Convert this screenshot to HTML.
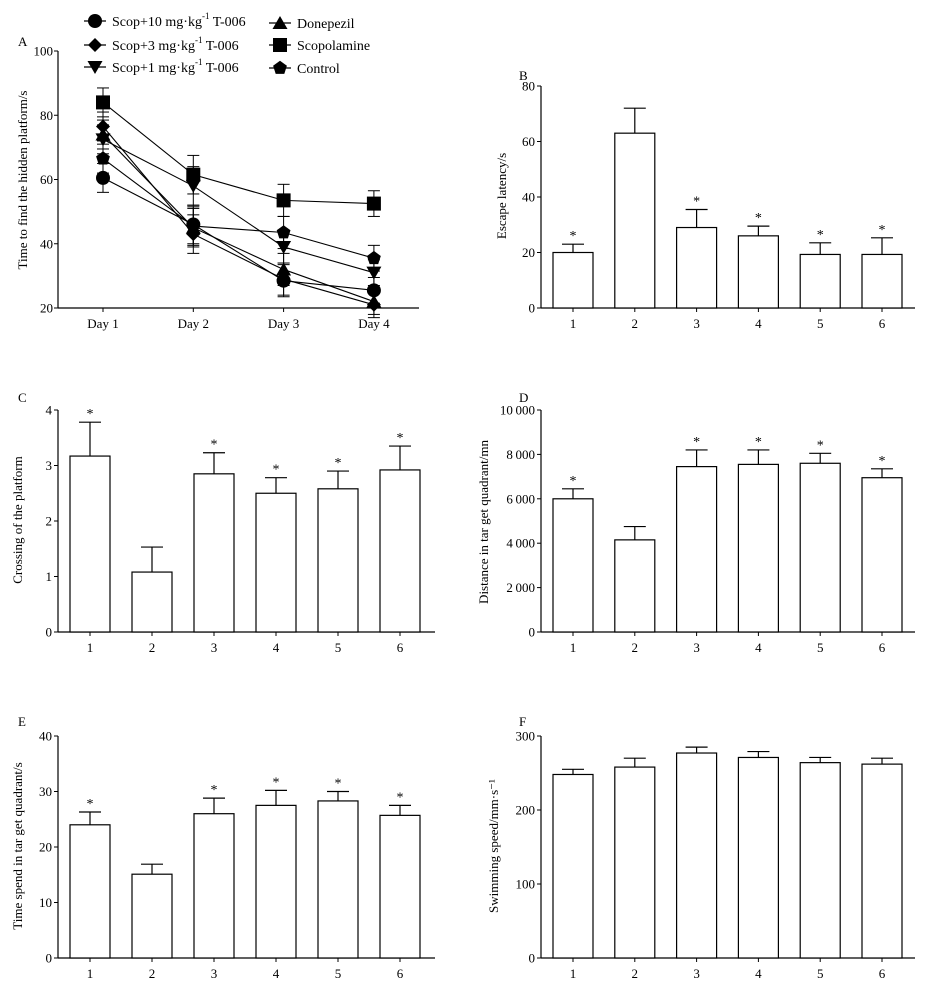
<!DOCTYPE html>
<html><head><meta charset="utf-8">
<style>
html,body{margin:0;padding:0;background:#fff;}
svg{display:block;font-family:"Liberation Serif",serif;}
</style></head>
<body>
<svg id="fig" width="925" height="982" viewBox="0 0 925 982" xmlns="http://www.w3.org/2000/svg">
</svg>
<script>
// Panel A data
const days = ["Day 1","Day 2","Day 3","Day 4"];
const aTicks = [20,40,60,80,100];
const sScop10 = [60.5,46,28.5,25.5];
const sScop3 = [76.5,43,29,21];
const sScop1 = [72.5,58,39,31];
const sDonepezil = [74,45,32,22];
const sScopolamine = [84,61.5,53.5,52.5];
const sControl = [66.5,45.5,43.5,35.5];
const aErr = [4.5,6,5,4];
// Bar panels data
const groups = ["1","2","3","4","5","6"];
const bVals = [20,63,29,26,19.3,19.3];
const bErr = [3,9,6.5,3.5,4.2,6];
const bTicks = [0,20,40,60,80];
const cVals = [3.17,1.08,2.85,2.5,2.58,2.92];
const cErr = [0.61,0.45,0.38,0.28,0.32,0.43];
const cTicks = [0,1,2,3,4];
const dVals = [6000,4150,7450,7550,7600,6950];
const dErr = [450,600,750,650,450,400];
const dTicks = [0,2000,4000,6000,8000,10000];
const eVals = [24,15.1,26,27.5,28.3,25.7];
const eErr = [2.3,1.8,2.8,2.7,1.7,1.8];
const eTicks = [0,10,20,30,40];
const fVals = [248,258,277,271,264,262];
const fErr = [7,12,8,8,7,8];
const fTicks = [0,100,200,300];
const starB = [true,false,true,true,true,true];
const starF = [false,false,false,false,false,false];

const NS="http://www.w3.org/2000/svg";
const svg=document.getElementById('fig');
function el(tag,attrs,parent){const e=document.createElementNS(NS,tag);for(const k in attrs)e.setAttribute(k,attrs[k]);(parent||svg).appendChild(e);return e;}
function txt(s,x,y,size,anchor,parent){const t=el('text',{x:x,y:y,'font-size':size,'text-anchor':anchor||'middle',fill:'#000'},parent);t.textContent=s;return t;}
function fmt(v){if(v>=1000){const s=String(v);return s.slice(0,s.length-3)+'\u2009'+s.slice(-3);}return String(v);}

function barPanel(name,letter,lx,ly,ax,y0,yTop,vmax,ticks,vals,errs,stars,title,tx,ty,xEnd,c0,step){
  const g=el('g',{});
  
  
  const ys=v=>y0-(v/vmax)*(y0-yTop);
  const L=txt(letter,lx,ly,13,'start',g);
  
  
  const yAxis=el('line',{x1:ax,y1:yTop,x2:ax,y2:y0,stroke:'#000','stroke-width':1.2},g);
  
  
  const xAxis=el('line',{x1:ax,y1:y0,x2:xEnd,y2:y0,stroke:'#000','stroke-width':1.2},g);
  
  
  ticks.forEach(t=>{const y=ys(t);el('line',{x1:ax-4,y1:y,x2:ax,y2:y,stroke:'#000'},g);
    const tl=txt(fmt(t),ax-6,y+4.5,13,'end',g);
    
    });
  const tt=txt(title,0,0,13,'middle',g);tt.setAttribute('transform',`translate(${tx},${ty}) rotate(-90)`);
  
  
  vals.forEach((v,i)=>{
    const cx=c0+i*step, w=40, top=ys(v), et=ys(v+errs[i]);
    el('line',{x1:cx,y1:top,x2:cx,y2:et,stroke:'#000','stroke-width':1.2},g);
    el('line',{x1:cx-11,y1:et,x2:cx+11,y2:et,stroke:'#000','stroke-width':1.2},g);
    const r=el('rect',{x:cx-w/2,y:top,width:w,height:y0-top,fill:'#fff',stroke:'#000','stroke-width':1.2},g);
    
    
    el('line',{x1:cx,y1:y0,x2:cx,y2:y0+4,stroke:'#000'},g);
    const xl=txt(groups[i],cx,y0+20,13,'middle',g);
    
    
    if(stars[i]){const s=txt('*',cx,et-4,14,'middle',g);
      
      }
  });
}
barPanel('panel-b','B',519,80,541,308,86,80,bTicks,bVals,bErr,starB,'Escape latency/s',506,196,915,573,61.8);
barPanel('panel-c','C',18,402,58,632,410,4,cTicks,cVals,cErr,starB,'Crossing of the platform',22,520,435,90,62);
barPanel('panel-d','D',519,402,541,632,410,10000,dTicks,dVals,dErr,starB,'Distance in tar get quadrant/mn',488,522,915,573,61.8);
barPanel('panel-e','E',18,726,58,958,736,40,eTicks,eVals,eErr,starB,'Time spend in tar get quadrant/s',22,846,435,90,62);
barPanel('panel-f','F',519,726,541,958,736,300,fTicks,fVals,fErr,starF,'Swimming speed/mm\u00b7s\u207B\u00B9',498,846,915,573,61.8);

// Panel A
(function(){
  const g=el('g',{});
  
  
  const ax=58,y0=308,yTop=51,xEnd=419;
  const ys=v=>y0-(v-20)/80*(y0-yTop);
  const xs=i=>103+i*90.3;
  const L=txt('A',18,46,13,'start',g);
  
  
  const ya=el('line',{x1:ax,y1:yTop,x2:ax,y2:y0,stroke:'#000','stroke-width':1.2},g);
  
  
  const xa=el('line',{x1:ax,y1:y0,x2:xEnd,y2:y0,stroke:'#000','stroke-width':1.2},g);
  
  
  aTicks.forEach(t=>{const y=ys(t);el('line',{x1:ax-4,y1:y,x2:ax,y2:y,stroke:'#000'},g);
    const tl=txt(String(t),ax-5,y+4.5,13,'end',g);
    
    });
  days.forEach((d,i)=>{el('line',{x1:xs(i),y1:y0,x2:xs(i),y2:y0+4,stroke:'#000'},g);
    const xl=txt(d,xs(i),y0+20,13,'middle',g);
    
    });
  const tt=txt('Time to find the hidden platform/s',0,0,13,'middle',g);
  tt.setAttribute('transform','translate(27,180) rotate(-90)');
  
  
  function marker(type,x,y,par){
    const r=7;
    if(type==='circle')return el('circle',{cx:x,cy:y,r:r},par);
    if(type==='square')return el('rect',{x:x-7,y:y-7,width:14,height:14},par);
    if(type==='diamond')return el('polygon',{points:`${x},${y-7} ${x+7},${y} ${x},${y+7} ${x-7},${y}`},par);
    if(type==='up')return el('polygon',{points:`${x},${y-7} ${x+7.5},${y+6} ${x-7.5},${y+6}`},par);
    if(type==='down')return el('polygon',{points:`${x},${y+7} ${x+7.5},${y-6} ${x-7.5},${y-6}`},par);
    const p=[];for(let k=0;k<5;k++){const a=-Math.PI/2+k*2*Math.PI/5;p.push((x+7.3*Math.cos(a)).toFixed(1)+','+(y+7.3*Math.sin(a)).toFixed(1));}
    return el('polygon',{points:p.join(' ')},par);
  }
  const series=[['scop-10',sScop10,'circle'],['scop-3',sScop3,'diamond'],['scop-1',sScop1,'down'],['donepezil',sDonepezil,'up'],['scopolamine',sScopolamine,'square'],['control',sControl,'pent']];
  series.forEach(([n,vals,m])=>{
    const sg=el('g',{},g);
    
    
    vals.forEach((v,i)=>{const x=xs(i);el('line',{x1:x,y1:ys(v+aErr[i]),x2:x,y2:ys(v-aErr[i]),stroke:'#000'},sg);
      el('line',{x1:x-6,y1:ys(v+aErr[i]),x2:x+6,y2:ys(v+aErr[i]),stroke:'#000'},sg);
      el('line',{x1:x-6,y1:ys(v-aErr[i]),x2:x+6,y2:ys(v-aErr[i]),stroke:'#000'},sg);});
    el('polyline',{points:vals.map((v,i)=>xs(i)+','+ys(v)).join(' '),fill:'none',stroke:'#000','stroke-width':1.1},sg);
    vals.forEach((v,i)=>{const mk=marker(m,xs(i),ys(v),sg);mk.setAttribute('fill','#000');
      
      });
  });
  // legend
  const leg=[['Scop+10 mg\u00b7kg','circle',95,21,true],['Scop+3 mg\u00b7kg','diamond',95,45,true],['Scop+1 mg\u00b7kg','down',95,67,true],['Donepezil','up',280,23,false],['Scopolamine','square',280,45,false],['Control','pent',280,68,false]];
  leg.forEach(([label,m,x,y,sup])=>{
    const lg=el('g',{},g);
    
    
    el('line',{x1:x-11,y1:y,x2:x+11,y2:y,stroke:'#000','stroke-width':1.2},lg);
    marker(m,x,y,lg).setAttribute('fill','#000');
    const t=el('text',{x:x+17,y:y+5,'font-size':14,fill:'#000'},lg);
    t.appendChild(document.createTextNode(label));
    if(sup){const s=document.createElementNS(NS,'tspan');s.setAttribute('dy','-7');s.setAttribute('font-size','9');s.textContent='-1';t.appendChild(s);
      const s2=document.createElementNS(NS,'tspan');s2.setAttribute('dy','7');s2.textContent=' T-006';t.appendChild(s2);}
  });
})();
</script>
</body></html>
